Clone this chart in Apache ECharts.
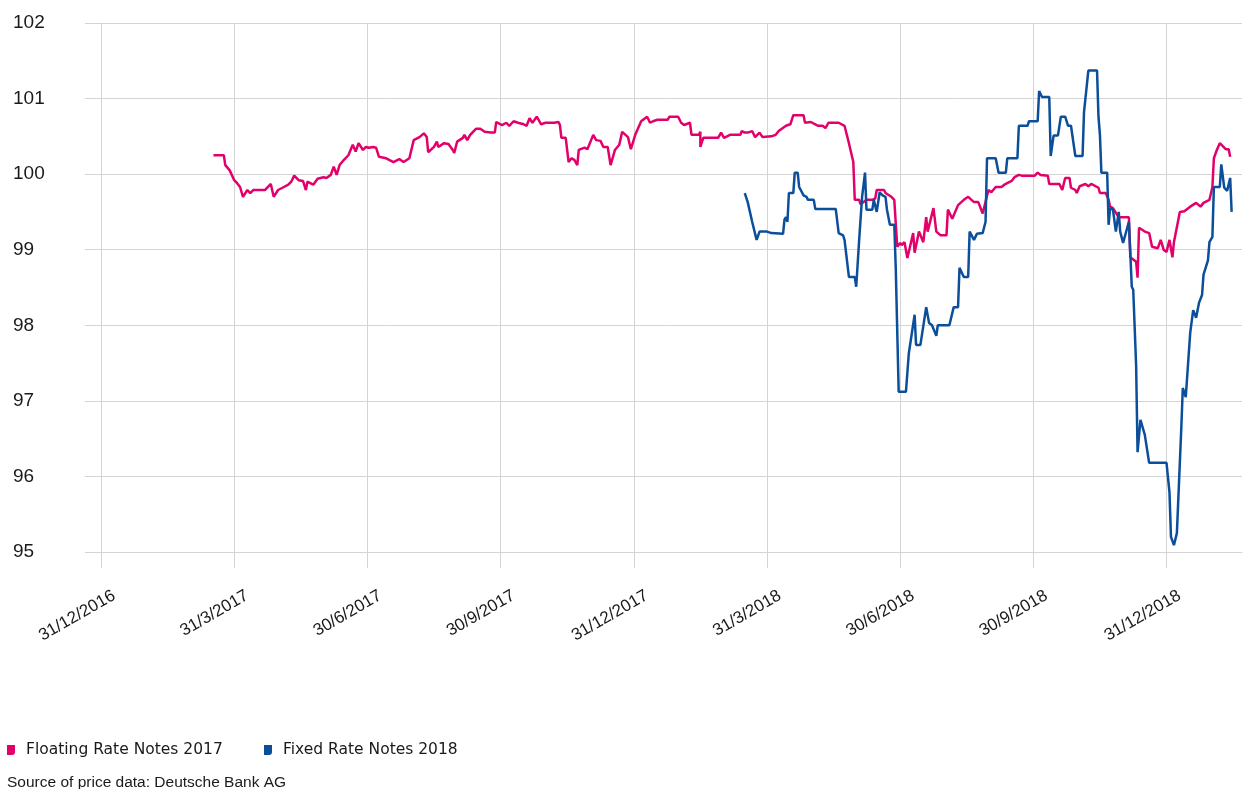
<!DOCTYPE html>
<html><head><meta charset="utf-8">
<script src="https://cdn.jsdelivr.net/npm/echarts@6/dist/echarts.min.js"></script>
<style>html,body{margin:0;padding:0;background:#fff}#c{width:1244px;height:789px}</style>
</head><body><div id="c"></div>
<script>
// ---- data ----
const tickDates = ['2016-12-31','2017-03-31','2017-06-30','2017-09-30','2017-12-31','2018-03-31','2018-06-30','2018-09-30','2018-12-31'];
const tickLabels = ['31/12/2016','31/3/2017','30/6/2017','30/9/2017','31/12/2017','31/3/2018','30/6/2018','30/9/2018','31/12/2018'];
const seriesNames = ['Floating Rate Notes 2017','Fixed Rate Notes 2018'];
const sourceText = 'Source of price data: Deutsche Bank AG';

const floatingDates = ['2017-03-17','2017-03-24','2017-03-25','2017-03-28','2017-03-31','2017-04-02','2017-04-04','2017-04-06','2017-04-09','2017-04-11','2017-04-13','2017-04-21','2017-04-25','2017-04-27','2017-04-30','2017-05-03','2017-05-07','2017-05-09','2017-05-11','2017-05-14','2017-05-17','2017-05-19','2017-05-20','2017-05-24','2017-05-27','2017-05-31','2017-06-02','2017-06-05','2017-06-07','2017-06-09','2017-06-11','2017-06-14','2017-06-17','2017-06-20','2017-06-22','2017-06-24','2017-06-27','2017-06-29','2017-07-01','2017-07-04','2017-07-06','2017-07-08','2017-07-13','2017-07-18','2017-07-22','2017-07-25','2017-07-29','2017-08-01','2017-08-05','2017-08-08','2017-08-10','2017-08-11','2017-08-15','2017-08-17','2017-08-18','2017-08-22','2017-08-25','2017-08-28','2017-08-29','2017-08-31','2017-09-04','2017-09-05','2017-09-07','2017-09-09','2017-09-13','2017-09-16','2017-09-19','2017-09-23','2017-09-26','2017-09-27','2017-10-01','2017-10-04','2017-10-06','2017-10-09','2017-10-12','2017-10-13','2017-10-16','2017-10-18','2017-10-20','2017-10-22','2017-10-25','2017-10-28','2017-10-31','2017-11-06','2017-11-09','2017-11-10','2017-11-11','2017-11-14','2017-11-16','2017-11-18','2017-11-20','2017-11-22','2017-11-23','2017-11-27','2017-11-29','2017-12-03','2017-12-05','2017-12-08','2017-12-10','2017-12-13','2017-12-15','2017-12-18','2017-12-21','2017-12-23','2017-12-27','2017-12-29','2018-01-01','2018-01-05','2018-01-09','2018-01-11','2018-01-13','2018-01-16','2018-01-23','2018-01-24','2018-01-30','2018-02-01','2018-02-03','2018-02-07','2018-02-08','2018-02-13','2018-02-14','2018-02-14','2018-02-16','2018-02-26','2018-02-28','2018-03-02','2018-03-06','2018-03-13','2018-03-14','2018-03-16','2018-03-18','2018-03-21','2018-03-23','2018-03-26','2018-03-28','2018-03-29','2018-04-03','2018-04-06','2018-04-08','2018-04-13','2018-04-16','2018-04-18','2018-04-25','2018-04-26','2018-04-30','2018-05-03','2018-05-05','2018-05-08','2018-05-09','2018-05-10','2018-05-12','2018-05-19','2018-05-23','2018-05-26','2018-05-29','2018-05-30','2018-06-02','2018-06-03','2018-06-07','2018-06-11','2018-06-13','2018-06-14','2018-06-19','2018-06-20','2018-06-24','2018-06-26','2018-06-28','2018-06-30','2018-07-01','2018-07-03','2018-07-05','2018-07-06','2018-07-09','2018-07-10','2018-07-11','2018-07-13','2018-07-16','2018-07-18','2018-07-19','2018-07-23','2018-07-25','2018-07-28','2018-08-01','2018-08-02','2018-08-05','2018-08-09','2018-08-13','2018-08-16','2018-08-20','2018-08-23','2018-08-26','2018-08-30','2018-09-01','2018-09-04','2018-09-08','2018-09-10','2018-09-15','2018-09-17','2018-09-20','2018-09-22','2018-10-01','2018-10-03','2018-10-05','2018-10-10','2018-10-11','2018-10-18','2018-10-20','2018-10-22','2018-10-25','2018-10-26','2018-10-29','2018-10-30','2018-11-01','2018-11-05','2018-11-07','2018-11-09','2018-11-14','2018-11-15','2018-11-19','2018-11-21','2018-11-22','2018-11-24','2018-11-28','2018-12-05','2018-12-06','2018-12-10','2018-12-11','2018-12-12','2018-12-16','2018-12-19','2018-12-21','2018-12-25','2018-12-27','2018-12-29','2018-12-31','2019-01-02','2019-01-04','2019-01-05','2019-01-09','2019-01-12','2019-01-16','2019-01-17','2019-01-20','2019-01-23','2019-01-25','2019-01-29','2019-01-31','2019-02-01','2019-02-03','2019-02-05','2019-02-09','2019-02-11','2019-02-12'];
const floatingValues = [100.25,100.25,100.12,100.05,99.92,99.88,99.83,99.70,99.79,99.75,99.79,99.79,99.87,99.70,99.79,99.82,99.86,99.90,99.98,99.92,99.91,99.79,99.90,99.86,99.94,99.96,99.95,99.99,100.10,99.99,100.12,100.19,100.25,100.39,100.30,100.41,100.32,100.36,100.35,100.36,100.35,100.23,100.21,100.16,100.20,100.16,100.21,100.45,100.49,100.54,100.49,100.29,100.36,100.43,100.36,100.41,100.40,100.32,100.28,100.43,100.48,100.52,100.45,100.52,100.60,100.60,100.56,100.55,100.55,100.69,100.65,100.68,100.64,100.70,100.68,100.69,100.66,100.64,100.74,100.68,100.76,100.66,100.68,100.68,100.69,100.65,100.48,100.48,100.16,100.21,100.19,100.12,100.32,100.35,100.33,100.52,100.45,100.44,100.36,100.36,100.12,100.32,100.39,100.56,100.49,100.33,100.52,100.70,100.76,100.68,100.70,100.72,100.72,100.76,100.76,100.68,100.65,100.68,100.52,100.52,100.56,100.36,100.48,100.48,100.55,100.48,100.52,100.52,100.57,100.55,100.55,100.57,100.49,100.55,100.49,100.48,100.50,100.52,100.57,100.64,100.66,100.78,100.78,100.68,100.69,100.66,100.64,100.64,100.66,100.61,100.68,100.68,100.64,100.41,100.16,99.66,99.66,99.60,99.66,99.66,99.68,99.79,99.79,99.75,99.70,99.66,99.04,99.09,99.06,99.10,98.89,98.88,99.22,98.96,98.96,99.24,99.10,99.43,99.24,99.55,99.24,99.19,99.19,99.53,99.41,99.59,99.66,99.70,99.63,99.63,99.48,99.79,99.76,99.83,99.83,99.86,99.91,99.96,99.99,99.98,99.98,100.02,99.99,99.98,99.87,99.87,99.79,99.95,99.95,99.82,99.79,99.75,99.84,99.87,99.84,99.87,99.82,99.75,99.75,99.66,99.57,99.55,99.43,99.43,98.90,98.84,98.63,99.29,99.24,99.22,99.04,99.02,99.13,99.00,98.97,99.13,98.90,99.10,99.50,99.51,99.57,99.55,99.62,99.57,99.62,99.66,99.83,100.21,100.32,100.41,100.33,100.33,100.23];

const fixedDates = ['2018-03-16','2018-03-18','2018-03-21','2018-03-22','2018-03-24','2018-03-26','2018-03-31','2018-04-03','2018-04-11','2018-04-12','2018-04-13','2018-04-14','2018-04-15','2018-04-18','2018-04-19','2018-04-21','2018-04-22','2018-04-25','2018-04-27','2018-04-28','2018-05-02','2018-05-03','2018-05-17','2018-05-19','2018-05-22','2018-05-23','2018-05-26','2018-05-30','2018-05-31','2018-06-02','2018-06-04','2018-06-06','2018-06-07','2018-06-11','2018-06-12','2018-06-14','2018-06-16','2018-06-18','2018-06-20','2018-06-21','2018-06-23','2018-06-26','2018-06-27','2018-06-29','2018-07-04','2018-07-06','2018-07-10','2018-07-11','2018-07-14','2018-07-18','2018-07-20','2018-07-22','2018-07-25','2018-07-26','2018-08-03','2018-08-06','2018-08-09','2018-08-10','2018-08-13','2018-08-16','2018-08-17','2018-08-20','2018-08-22','2018-08-26','2018-08-28','2018-08-29','2018-09-04','2018-09-06','2018-09-11','2018-09-12','2018-09-19','2018-09-20','2018-09-26','2018-09-27','2018-10-03','2018-10-04','2018-10-06','2018-10-11','2018-10-12','2018-10-14','2018-10-17','2018-10-19','2018-10-22','2018-10-24','2018-10-26','2018-10-29','2018-11-03','2018-11-04','2018-11-05','2018-11-07','2018-11-13','2018-11-14','2018-11-15','2018-11-16','2018-11-20','2018-11-21','2018-11-22','2018-11-24','2018-11-26','2018-11-28','2018-11-29','2018-12-01','2018-12-05','2018-12-07','2018-12-08','2018-12-10','2018-12-11','2018-12-13','2018-12-16','2018-12-19','2018-12-31','2019-01-02','2019-01-03','2019-01-05','2019-01-07','2019-01-10','2019-01-11','2019-01-13','2019-01-16','2019-01-18','2019-01-20','2019-01-22','2019-01-24','2019-01-25','2019-01-28','2019-01-29','2019-01-31','2019-02-01','2019-02-05','2019-02-06','2019-02-08','2019-02-10','2019-02-12','2019-02-13'];
const fixedValues = [99.75,99.63,99.37,99.35,99.13,99.24,99.24,99.22,99.21,99.40,99.43,99.37,99.75,99.75,100.02,100.02,99.83,99.72,99.70,99.66,99.66,99.54,99.54,99.22,99.19,99.13,98.64,98.64,98.51,99.13,99.70,100.02,99.53,99.53,99.66,99.50,99.76,99.72,99.70,99.53,99.33,99.33,98.76,97.12,97.12,97.63,98.14,97.74,97.74,98.24,98.03,98.00,97.86,98.00,98.00,98.24,98.24,98.76,98.64,98.64,99.24,99.13,99.21,99.22,99.37,100.21,100.21,100.02,100.02,100.21,100.21,100.64,100.64,100.70,100.70,101.10,101.02,101.02,100.24,100.51,100.51,100.76,100.76,100.64,100.64,100.24,100.24,100.82,100.82,101.37,101.37,100.76,100.52,100.02,100.02,99.33,99.55,99.53,99.24,99.50,99.24,99.09,99.37,98.51,98.47,97.47,96.32,96.75,96.55,96.18,96.18,95.79,95.20,95.09,95.25,96.65,97.17,97.05,97.90,98.20,98.10,98.30,98.40,98.67,98.86,99.10,99.17,99.83,99.83,100.13,99.82,99.78,99.95,99.50];

// ---- chart ----
// the reference axis gives every quarter the same width: position = quarter index + fraction of that quarter
const quarterBounds = tickDates.concat(['2019-03-31']);
function ts(s){const p=s.split('-').map(Number);return Date.UTC(p[0],p[1]-1,p[2]);}
const boundTimes = quarterBounds.map(ts);
function qpos(s){
  const t = ts(s);
  for (let k = 0; k < boundTimes.length - 1; k++) {
    if (t >= boundTimes[k] && t <= boundTimes[k+1]) return k + (t - boundTimes[k]) / (boundTimes[k+1] - boundTimes[k]);
  }
  return 0;
}
const tickPos = tickDates.map(qpos);
function pairs(d,v){return d.map((x,i)=>[qpos(x),v[i]]);}
const gridColor = '#d4d4d4';
const font = "'Liberation Sans', Arial, sans-serif";
const legendFont = "'DejaVu Sans', 'Liberation Sans', sans-serif";
const colors = ['#e3006b','#0b4f9b'];
const iconPath = 'path://M0,0 L8,0 L8,7 Q8,10 5,10 L0,10 Z M14,10 L14,10';
const chart = echarts.init(document.getElementById('c'), null, {renderer:'canvas'});
chart.setOption({
  animation:false,
  backgroundColor:'#fff',
  textStyle:{fontFamily:font},
  grid:{left:101,right:2,top:23,bottom:237,containLabel:false},
  legend:[
    {left:7, top:742, padding:0, itemWidth:14, itemHeight:10, icon:iconPath,
     textStyle:{fontSize:15.5, color:'#1a1a1a', fontFamily:legendFont}, data:[seriesNames[0]]},
    {left:264, top:742, padding:0, itemWidth:14, itemHeight:10, icon:iconPath,
     textStyle:{fontSize:15.5, color:'#1a1a1a', fontFamily:legendFont}, data:[seriesNames[1]]}
  ],
  title:{
    text:sourceText, left:7, top:775, padding:0,
    textStyle:{fontSize:15.5, fontWeight:'normal', color:'#1a1a1a', fontFamily:font}
  },
  xAxis:{
    type:'value', min:0, max:qpos('2019-02-20'),
    axisLine:{show:true, lineStyle:{color:gridColor}},
    axisTick:{show:true, length:16, customValues:tickPos, lineStyle:{color:gridColor}},
    splitLine:{show:true, lineStyle:{color:gridColor}},
    axisLabel:{
      customValues:tickPos, rotate:30, margin:50, padding:[0,-15,0,0], fontSize:17, color:'#1a1a1a', fontFamily:font,
      formatter:function(v){
        let best=0; for(let i=1;i<tickPos.length;i++){ if(Math.abs(tickPos[i]-v)<Math.abs(tickPos[best]-v)) best=i; }
        return tickLabels[best];
      }
    }
  },
  yAxis:{
    type:'value', min:95, max:102, interval:1,
    axisLine:{show:true, lineStyle:{color:gridColor}},
    axisTick:{show:true, length:16, lineStyle:{color:gridColor}},
    splitLine:{show:true, lineStyle:{color:gridColor}},
    axisLabel:{align:'left', margin:88, fontSize:19, color:'#1a1a1a', fontFamily:font}
  },
  series:[
    {name:seriesNames[0], type:'line', showSymbol:false, symbol:'none', color:colors[0],
     lineStyle:{width:2.5, color:colors[0]}, data:pairs(floatingDates,floatingValues)},
    {name:seriesNames[1], type:'line', showSymbol:false, symbol:'none', color:colors[1],
     lineStyle:{width:2.5, color:colors[1]}, data:pairs(fixedDates,fixedValues)}
  ]
});
</script></body></html>
